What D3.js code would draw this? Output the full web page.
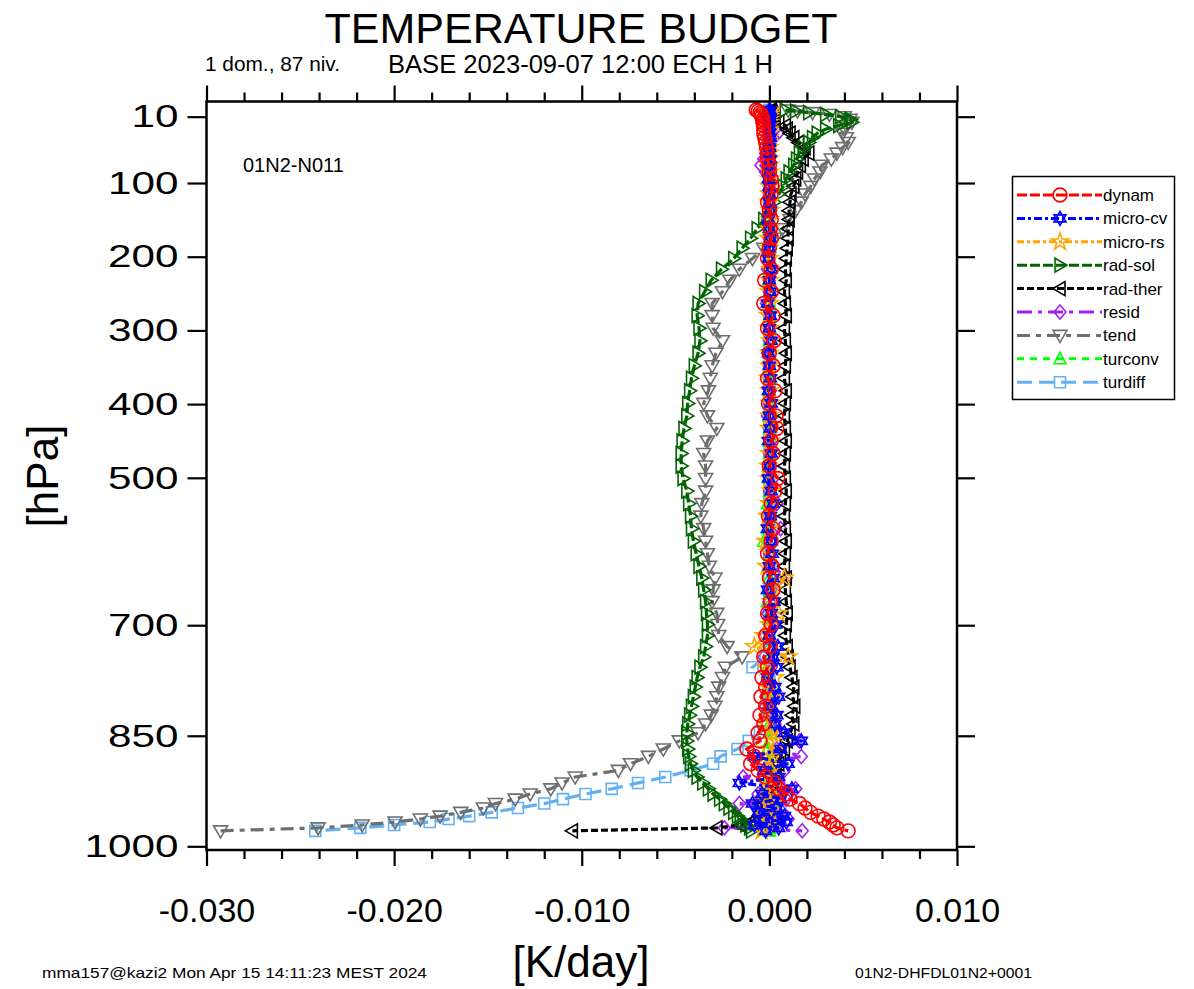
<!DOCTYPE html>
<html>
<head>
<meta charset="utf-8">
<script src="https://cdn.jsdelivr.net/npm/d3@7"></script>
<style>
  body { margin: 0; background: #fff; }
  text { font-family: "Liberation Sans", Arial, Helvetica, sans-serif; fill: #000; }
</style>
</head>
<body>
<div id="chart"></div>
<script>
// pressure levels (hPa), top to bottom
var levels = [1, 2.5, 4.5, 7, 10, 13.5, 17.5, 22, 27, 32.5,
  38.5, 45, 52, 59.5, 67.5, 76, 85, 94.5, 104.5, 115,
  126, 137.5, 149.5, 162, 175, 188.5, 202.5, 217, 232, 247.5,
  263.5, 280, 297, 314, 331, 348, 365, 382, 399, 416,
  433, 450, 467, 484, 501, 518, 535, 552, 569, 586,
  603, 620, 636, 652, 668, 684, 699, 714, 729, 743,
  757, 771, 784, 797, 810, 822, 834, 846, 857, 868,
  878, 888, 897, 906, 914, 922, 929, 936, 942, 948,
  954, 959, 963, 967, 971, 975, 979];

// series values (K/day)
var dynam = [-0.0007, -0.0006, -0.0005, -0.00045, -0.0004, -0.00035, -0.00035, -0.0003, -0.0003, -0.0003,
  -0.00025, -0.0002, -0.00015, -0.0001, -0.0001, 0.0, 0.0, 0.0001, 0.00015, 0.0001,
  -0.0001, 0.0, 0.0001, 0.00005, 0.0001, 0.0, -0.0001, 0.0001, -0.00025, 0.0001,
  -0.0003, 0.0002, -0.0001, 0.00025, 0.0, 0.0002, -0.0001, 0.0003, -0.00005, 0.00035,
  0.0004, 0.0001, 0.0002, 0.0, 0.00045, 0.0003, 0.0001, -0.00005, 0.0002, 0.0001,
  -0.0001, 0.00015, 0.0, 0.0002, 0.00005, -0.0001, 0.0001, -0.0002, 0.00005, -0.0003,
  -0.0001, -0.0004, -0.0002, -0.00045, -0.0002, -0.0005, -0.0003, -0.0006, -0.0005, -0.0012,
  -0.0008, -0.001, -0.0006, -0.0002, 0.0003, 0.0005, 0.0009, 0.0011, 0.0016, 0.0019,
  0.0022, 0.0026, 0.0029, 0.0032, 0.0034, 0.0036, 0.0042];

var microCv = [0.0, 0.00005, 0.0, -0.00005, 0.0, 0.00005, 0.0, 0.0, -0.00005, 0.0,
  0.00005, 0.0, 0.0, 0.0, 0.00005, 0.0, 0.0, -0.00005, 0.0, 0.0,
  0.0, 0.00005, -0.00005, 0.0, 0.00005, 0.0, -0.00005, 0.0001, 0.0, 0.00005,
  -0.0001, 0.00005, 0.0, 0.0001, -0.00005, 0.0, 0.00005, -0.00005, 0.0001, 0.0,
  0.00005, -0.00005, 0.0001, 0.0, -0.00005, 0.0001, 0.0002, 0.00005, -0.0001, 0.0001,
  0.00015, 0.0, 0.0002, -0.0001, 0.00025, 0.0001, 0.00035, 0.0, 0.00045, 0.0002,
  0.0004, -0.0001, 0.0003, 0.0005, 0.0001, 0.0004, 0.0003, 0.0008, 0.0017, 0.0006,
  -0.0008, 0.001, -0.0003, 0.0005, -0.0016, 0.0012, -0.0004, 0.0006, -0.0009, 0.0004,
  -0.0006, 0.0008, -0.0003, 0.0009, -0.0008, 0.0005, -0.0002];

var microRs = [0.0, 0.0, 0.0, 0.0, 0.0, 0.0, 0.0, 0.0, 0.0, 0.0,
  0.0, 0.0, 0.0, 0.0, 0.0, 0.0, 0.0, 0.0, 0.0, 0.0,
  0.0, 0.00005, 0.0, 0.0, -0.00005, 0.0, 0.0, 0.00005, 0.0, 0.0,
  0.0, -0.00005, 0.0, 0.00005, 0.0, 0.0, -0.00005, 0.0, 0.00005, 0.0,
  0.0, 0.00005, 0.0, -0.00005, 0.0, 0.0001, 0.0, -0.0001, 0.00005, -0.0002,
  0.0001, -0.00015, 0.0008, 0.0002, 0.0001, 0.0005, 0.0, -0.0003, -0.0008, 0.001,
  -0.0002, 0.0003, -0.0001, 0.0002, 0.0, 0.0003, -0.0002, 0.0001, 0.0004, -0.0001,
  0.0002, -0.0003, 0.0001, 0.0003, -0.0002, 0.0002, 0.0, -0.0003, 0.0002, -0.0004,
  0.0001, -0.0003, 0.0002, -0.0002, 0.0001, -0.0003, -0.0004];

var radSol = [0.00085, 0.0014, 0.0021, 0.003, 0.0038, 0.0043, 0.0044, 0.0037, 0.003, 0.00255,
  0.0023, 0.0021, 0.0018, 0.0016, 0.00145, 0.0013, 0.00105, 0.0009, 0.00075, 0.0005,
  0.00025, 0.0, -0.0003, -0.00065, -0.001, -0.00145, -0.0019, -0.00255, -0.0031, -0.00345,
  -0.0038, -0.00385, -0.00375, -0.0037, -0.0038, -0.004, -0.00415, -0.00425, -0.00435, -0.0044,
  -0.00455, -0.00465, -0.0047, -0.0047, -0.0046, -0.0044, -0.0043, -0.0042, -0.00415, -0.00405,
  -0.0039, -0.00375, -0.0036, -0.0035, -0.0034, -0.00335, -0.0033, -0.0033, -0.0034, -0.0035,
  -0.0037, -0.00385, -0.00395, -0.00405, -0.00415, -0.00425, -0.00435, -0.0044, -0.0044, -0.00435,
  -0.0043, -0.0042, -0.00405, -0.00385, -0.00355, -0.00325, -0.003, -0.00265, -0.0024, -0.00215,
  -0.0019, -0.0017, -0.00155, -0.0014, -0.00125, -0.00105, -0.00095];

var radTher = [0.0001, 0.0001, 0.00015, 0.0002, 0.0002, 0.0003, 0.0005, 0.00085, 0.00095, 0.0011,
  0.0013, 0.00155, 0.0019, 0.0021, 0.0018, 0.00165, 0.0015, 0.0014, 0.0013, 0.00115,
  0.0011, 0.00105, 0.00105, 0.001, 0.001, 0.00095, 0.0009, 0.00085, 0.0009, 0.0008,
  0.00085, 0.0009, 0.0008, 0.00085, 0.0009, 0.00085, 0.0008, 0.0009, 0.00085, 0.0008,
  0.00085, 0.0009, 0.00085, 0.0008, 0.00085, 0.0009, 0.00085, 0.0008, 0.00085, 0.0009,
  0.00085, 0.0008, 0.0009, 0.00085, 0.0009, 0.00095, 0.0009, 0.00085, 0.00095, 0.001,
  0.0011, 0.0012, 0.0013, 0.00125, 0.00135, 0.0012, 0.0013, 0.0011, 0.00095, 0.0008,
  0.0006, 0.0005, 0.00035, 0.00025, 0.00015, 0.00005, -0.00005, -0.00015, -0.00025, -0.00035,
  -0.00045, -0.00055, -0.0007, -0.001, -0.00155, -0.0028, -0.0105];

var resid = [0.0, 0.0, 0.00005, 0.0, 0.0, 0.0, 0.0001, 0.0002, 0.0003, 0.00045,
  0.0002, 0.0, -0.0001, -0.0002, -0.0003, -0.00045, -0.0002, 0.0, 0.0, 0.0,
  0.0, 0.0, -0.0001, 0.0, 0.0, -0.00005, 0.0, -0.0001, 0.0, 0.0,
  -0.00015, 0.0, 0.0, 0.0, -0.0001, 0.0, 0.0, 0.00005, 0.0, -0.0001,
  0.0, 0.0001, 0.0, 0.0, 0.0002, 0.0, 0.0004, 0.0001, 0.0006, 0.0001,
  0.0, 0.0002, 0.0009, 0.0001, 0.0, -0.0001, 0.0, -0.0002, 0.0, -0.0003,
  0.0001, -0.0001, 0.0, 0.0002, -0.0002, 0.0, 0.0003, 0.0006, 0.0016, 0.0004,
  0.0017, -0.0003, 0.0008, -0.0014, 0.0005, 0.0014, -0.0006, 0.0009, -0.0016, 0.0003,
  0.0007, -0.0003, 0.001, -0.0005, 0.0004, -0.0024, 0.00175];

var tend = [0.001, 0.0015, 0.0023, 0.0032, 0.004, 0.0043, 0.0044, 0.0041, 0.004, 0.0039,
  0.0041, 0.0042, 0.0039, 0.0036, 0.0033, 0.0028, 0.0027, 0.0024, 0.0022, 0.0019,
  0.0017, 0.0014, 0.0011, 0.0007, 0.0003, -0.0003, -0.0009, -0.0016, -0.0021, -0.0025,
  -0.00305, -0.00305, -0.003, -0.0025, -0.00285, -0.00305, -0.00315, -0.00325, -0.0035, -0.0033,
  -0.0028, -0.0033, -0.0035, -0.0034, -0.0034, -0.0034, -0.0036, -0.00365, -0.0035, -0.0034,
  -0.0033, -0.0032, -0.0029, -0.003, -0.00305, -0.0028, -0.00275, -0.0027, -0.00225, -0.00145,
  -0.00235, -0.0025, -0.0027, -0.0028, -0.0029, -0.0031, -0.0034, -0.0038, -0.0048, -0.00565,
  -0.00645, -0.0074, -0.00805, -0.01035, -0.01105, -0.01165, -0.01275, -0.01355, -0.0146, -0.01525,
  -0.01645, -0.01755, -0.0186, -0.01995, -0.0217, -0.02405, -0.02925];

var turconv = [0.0, 0.0, 0.0, 0.0, 0.0, 0.0, 0.0, 0.0, 0.0, 0.0,
  0.0, 0.0, 0.0, 0.0, 0.0, 0.0, 0.0, 0.0, 0.0, 0.0,
  0.0, 0.0, 0.0, 0.0, 0.0, 0.0, 0.0, 0.0, 0.0, 0.0,
  0.0, 0.0, 0.0, 0.0, 0.0, 0.0, 0.0, 0.0, 0.0, 0.0,
  0.0, 0.0, 0.0, -0.00005, 0.0, 0.0, -0.0001, 0.0, -0.0001, -0.0003,
  0.0, -0.00005, 0.0, 0.0, -0.0001, 0.0, 0.0, -0.00005, 0.0, 0.0,
  -0.0001, 0.0, 0.0001, 0.0, -0.0001, 0.0001, 0.0, 0.0001, 0.0, -0.0001,
  0.0001, 0.0, 0.0002, 0.0, 0.0001, -0.0001, 0.0001, 0.0, 0.0002, 0.0001,
  0.0, 0.0001, 0.0, 0.0002, 0.0001, 0.0, 0.0];

var turdiff = [0.0, 0.0, 0.0, 0.0, 0.0, 0.0, 0.0, 0.0, 0.0, 0.0,
  0.0, 0.0, 0.0, 0.0, 0.0, 0.0, 0.0, 0.0, 0.0, 0.0,
  0.0, 0.0, 0.0, 0.0, 0.0, 0.0, 0.0, 0.0, 0.0, 0.0,
  0.0, 0.0, 0.0, 0.0, 0.0, 0.0, 0.0, 0.0, 0.0, 0.0,
  0.0, 0.0, 0.0, 0.0, 0.0, 0.0, 0.0, 0.0, 0.0, 0.0,
  0.0, 0.0, 0.0, 0.0, 0.0, 0.0, 0.0, 0.0, 0.0, -0.0002,
  -0.0009, 0.0, -0.00005, 0.0, -0.00005, -0.00005, -0.0001, -0.0005, -0.0011, -0.0017,
  -0.0026, -0.003, -0.0042, -0.00555, -0.007, -0.0084, -0.0098, -0.011, -0.012, -0.0134,
  -0.0148, -0.016, -0.0171, -0.0181, -0.02, -0.0218, -0.0242];

// axis ticks
var yTicks = [10, 100, 200, 300, 400, 500, 700, 850, 1000];
var xMajor = [-0.03, -0.02, -0.01, 0, 0.01];
var xMinor = [-0.028, -0.026, -0.024, -0.022, -0.018, -0.016, -0.014, -0.012,
  -0.008, -0.006, -0.004, -0.002, 0.002, 0.004, 0.006, 0.008];

// series table: name, values, color, dash, marker
var series = [
  {name: "dynam",     values: dynam,   color: "#ff0000", dash: "10,3",      marker: "circle"},
  {name: "micro-cv",  values: microCv, color: "#0000ff", dash: "8,3,3,3",   marker: "hexagram"},
  {name: "micro-rs",  values: microRs, color: "#ffa500", dash: "7,3,3,3",   marker: "star"},
  {name: "rad-sol",   values: radSol,  color: "#006400", dash: "10,3",      marker: "triRight"},
  {name: "rad-ther",  values: radTher, color: "#000000", dash: "7,3",       marker: "triLeft"},
  {name: "resid",     values: resid,   color: "#a020f0", dash: "15,6,4,6",  marker: "diamond"},
  {name: "tend",      values: tend,    color: "#6e6e6e", dash: "13,6,5,6",  marker: "triDown"},
  {name: "turconv",   values: turconv, color: "#00ff00", dash: "7,6",       marker: "triUp"},
  {name: "turdiff",   values: turdiff, color: "#63b0f2", dash: "15,7",      marker: "square"}
];

function markerPath(kind) {
  switch (kind) {
    case "square":   return "M-5.5,-5.5L5.5,-5.5L5.5,5.5L-5.5,5.5Z";
    case "diamond":  return "M0,-7L6,0L0,7L-6,0Z";
    case "triDown":  return "M-7,-5L7,-5L0,7Z";
    case "triUp":    return "M-6,5L6,5L0,-6.5Z";
    case "triRight": return "M-5,-7L-5,7L7,0Z";
    case "triLeft":  return "M5,-7L5,7L-7,0Z";
    case "hexagram": return "M0,-7L6,3.5L-6,3.5Z M0,7L6,-3.5L-6,-3.5Z";
    case "star":     return d3.symbol().type(d3.symbolStar).size(90)();
    default:         return d3.symbol().type(d3.symbolCircle).size(150)();
  }
}

function budgetChart(base, W, H) {
  var frame = {left: 206.5, right: 957, top: 101.5, bottom: 850};

  var svg = d3.select(base).append("svg").attr("width", W).attr("height", H);

  var x = d3.scaleLinear().domain([-0.03, 0.01]).range([frame.left, frame.right]);
  var y = d3.scaleLinear().domain([-10.6, 1005]).range([frame.top, frame.bottom]);

  // curves, last legend entry drawn first
  var line = d3.line()
    .x(function(d) { return x(d.v); })
    .y(function(d) { return y(d.p); });

  var layers = svg.append("g").selectAll("g.layer")
    .data(series.slice().reverse())
    .enter().append("g")
      .attr("class", "layer");

  layers.append("path")
    .attr("d", function(s) {
      return line(s.values.map(function(v, i) { return {v: v, p: levels[i]}; }));
    })
    .attr("fill", "none")
    .attr("stroke", function(s) { return s.color; })
    .attr("stroke-width", 3.2)
    .attr("stroke-dasharray", function(s) { return s.dash; });

  layers.each(function(s) {
    d3.select(this).selectAll("path.mk")
      .data(s.values)
      .enter().append("path")
        .attr("class", "mk")
        .attr("d", markerPath(s.marker))
        .attr("transform", function(v, i) { return "translate(" + x(v) + "," + y(levels[i]) + ")"; })
        .attr("fill", "none")
        .attr("stroke", s.color)
        .attr("stroke-width", 1.6);
  });

  // frame
  svg.append("rect")
    .attr("x", frame.left).attr("y", frame.top)
    .attr("width", frame.right - frame.left).attr("height", frame.bottom - frame.top)
    .attr("fill", "none").attr("stroke", "#000").attr("stroke-width", 2.5);

  // AXES
  var fmt = function(d) { return d.toFixed(3); };

  var bottomAxis = svg.append("g")
    .attr("transform", "translate(0," + frame.bottom + ")")
    .call(d3.axisBottom(x).tickValues(xMajor).tickSize(16).tickPadding(32).tickFormat(fmt));
  bottomAxis.selectAll("text").attr("font-size", 34).attr("font-family", null);
  svg.append("g")
    .attr("transform", "translate(0," + frame.bottom + ")")
    .call(d3.axisBottom(x).tickValues(xMinor).tickSize(9).tickFormat(""));

  svg.append("g")
    .attr("transform", "translate(0," + frame.top + ")")
    .call(d3.axisTop(x).tickValues(xMajor).tickSize(16).tickFormat(""));
  svg.append("g")
    .attr("transform", "translate(0," + frame.top + ")")
    .call(d3.axisTop(x).tickValues(xMinor).tickSize(9).tickFormat(""));

  var leftAxis = svg.append("g")
    .attr("transform", "translate(" + frame.left + ",0)")
    .call(d3.axisLeft(y).tickValues(yTicks).tickSize(19).tickPadding(9).tickFormat(d3.format("d")));
  leftAxis.selectAll("text")
    .attr("font-size", 32).attr("font-family", null)
    .attr("textLength", function(d) { return String(d).length * 23.5; })
    .attr("lengthAdjust", "spacingAndGlyphs");

  svg.append("g")
    .attr("transform", "translate(" + frame.right + ",0)")
    .call(d3.axisRight(y).tickValues(yTicks).tickSize(18).tickFormat(""));

  svg.selectAll(".domain").remove();
  svg.selectAll(".tick line").attr("stroke", "#000").attr("stroke-width", 2.2);

  // TITLES
  svg.append("text").attr("x", 581).attr("y", 43).attr("text-anchor", "middle")
    .attr("font-size", 43).text("TEMPERATURE BUDGET");
  svg.append("text").attr("x", 205).attr("y", 71).attr("font-size", 20)
    .attr("textLength", 135).attr("lengthAdjust", "spacingAndGlyphs").text("1 dom., 87 niv.");
  svg.append("text").attr("x", 388).attr("y", 73).attr("font-size", 25.5)
    .attr("textLength", 385).attr("lengthAdjust", "spacingAndGlyphs").text("BASE 2023-09-07 12:00 ECH 1 H");
  svg.append("text").attr("x", 243).attr("y", 172).attr("font-size", 20).text("01N2-N011");

  svg.append("text")
    .attr("transform", "translate(58,476) rotate(-90)")
    .attr("text-anchor", "middle").attr("font-size", 44).text("[hPa]");
  svg.append("text").attr("x", 581).attr("y", 977).attr("text-anchor", "middle")
    .attr("font-size", 44).text("[K/day]");

  svg.append("text").attr("x", 42).attr("y", 978).attr("font-size", 14.5)
    .attr("textLength", 385).attr("lengthAdjust", "spacingAndGlyphs")
    .text("mma157@kazi2 Mon Apr 15 14:11:23 MEST 2024");
  svg.append("text").attr("x", 855).attr("y", 978).attr("font-size", 14.5)
    .attr("textLength", 177).attr("lengthAdjust", "spacingAndGlyphs")
    .text("01N2-DHFDL01N2+0001");

  // LEGEND
  var lg = svg.append("g").attr("class", "legend");
  lg.append("rect")
    .attr("x", 1012.5).attr("y", 176.5).attr("width", 162).attr("height", 223)
    .attr("fill", "#fff").attr("stroke", "#000").attr("stroke-width", 1.5);

  var items = lg.selectAll("g.legend-item")
    .data(series)
    .enter().append("g")
      .attr("class", "legend-item")
      .attr("transform", function(d, i) { return "translate(0," + (195 + i * 23.4) + ")"; });

  items.append("line")
    .attr("x1", 1017).attr("x2", 1102).attr("y1", 0).attr("y2", 0)
    .attr("stroke", function(d) { return d.color; })
    .attr("stroke-width", 3)
    .attr("stroke-dasharray", function(d) { return d.dash; });
  items.append("path")
    .attr("d", function(d) { return markerPath(d.marker); })
    .attr("transform", "translate(1060,0)")
    .attr("fill", "none")
    .attr("stroke", function(d) { return d.color; })
    .attr("stroke-width", 1.6);
  items.append("text")
    .attr("x", 1103).attr("y", 6).attr("font-size", 17)
    .text(function(d) { return d.name; });
}

budgetChart("#chart", 1194, 989);
</script>
</body>
</html>
